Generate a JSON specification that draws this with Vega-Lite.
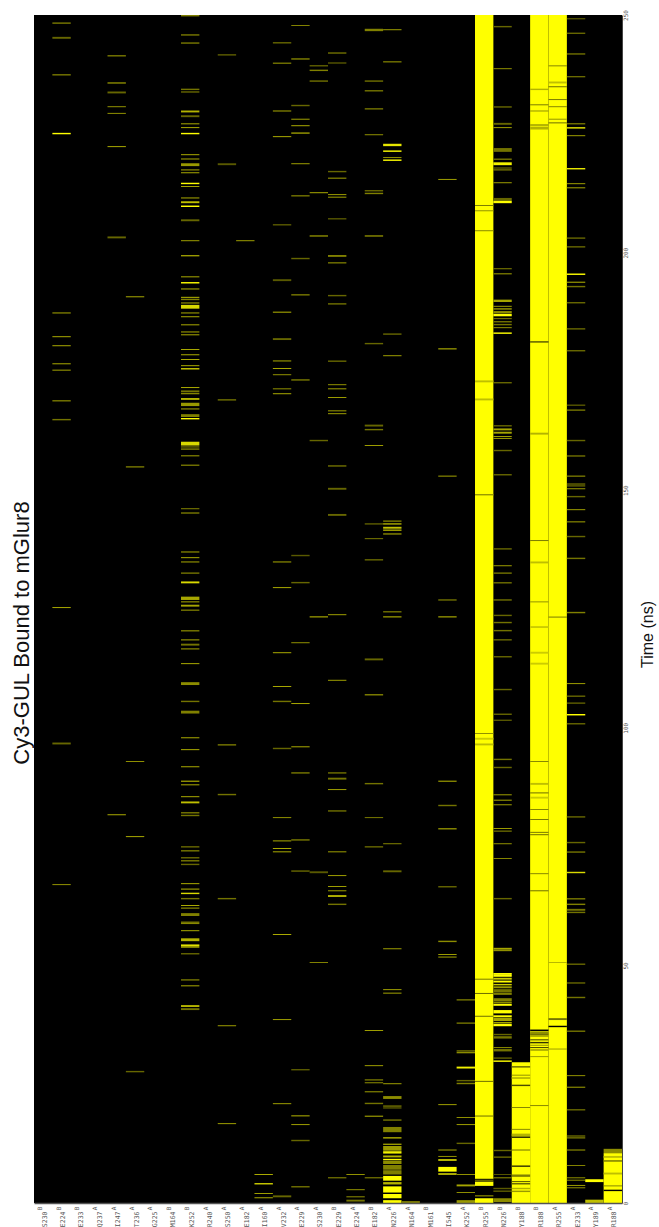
{"$schema":"https://vega.github.io/schema/vega-lite/v6.json","autosize":"none","width":588,"height":1188,"padding":{"left":34,"top":15,"right":37,"bottom":24},"background":"white","view":{"fill":"#000000","stroke":null},
"title":{"text":"Cy3-GUL Bound to mGlur8","orient":"left","anchor":"middle","font":"Liberation Sans","fontSize":22,"fontWeight":"normal","color":"#111111","offset":0,"dx":-24},
"data":{"values":[
{"c":"R255B","a":5.0,"b":250,"v":1},{"c":"R255B","a":3.6,"b":4.5,"v":1},{"c":"R255B","a":4.5,"b":4.9,"v":0.4},{"c":"R255B","a":0,"b":1.0,"v":1},{"c":"R255B","a":1.4,"b":1.6,"v":0.7},
{"c":"Y188B","a":0,"b":29.6,"v":1},{"c":"R188B","a":0,"b":250,"v":1},{"c":"R255A","a":0,"b":250,"v":1},{"c":"R188A","a":0,"b":10.5,"v":1},{"c":"R188A","a":10.5,"b":11.4,"v":0.55},
{"c":"E224B","a":248.2,"b":248.4,"v":0.7},{"c":"E224B","a":245.0,"b":245.4,"v":0.4},{"c":"E224B","a":237.3,"b":237.5,"v":0.7},{"c":"E224B","a":224.9,"b":225.2,"v":1},{"c":"E224B","a":187.2,"b":187.4,"v":0.7},{"c":"E224B","a":182.2,"b":182.4,"v":0.7},{"c":"E224B","a":180.3,"b":180.5,"v":0.7},{"c":"E224B","a":176.5,"b":176.7,"v":0.7},{"c":"E224B","a":175.1,"b":175.4,"v":0.45},{"c":"E224B","a":168.7,"b":168.9,"v":0.7},{"c":"E224B","a":164.7,"b":165,"v":0.45},{"c":"E224B","a":125.2,"b":125.4,"v":0.7},{"c":"E224B","a":96.5,"b":96.9,"v":0.4},{"c":"E224B","a":66.9,"b":67.1,"v":0.6},
{"c":"I247A","a":241.3,"b":241.5,"v":0.7},{"c":"I247A","a":235.5,"b":235.9,"v":0.4},{"c":"I247A","a":233.5,"b":233.9,"v":0.4},{"c":"I247A","a":230.6,"b":230.8,"v":0.6},{"c":"I247A","a":229.2,"b":229.4,"v":0.6},{"c":"I247A","a":222.2,"b":222.4,"v":0.7},{"c":"I247A","a":203.0,"b":203.4,"v":0.4},{"c":"I247A","a":81.6,"b":81.8,"v":0.7},
{"c":"T236A","a":190.6,"b":190.8,"v":0.7},{"c":"T236A","a":154.8,"b":155,"v":0.7},{"c":"T236A","a":92.8,"b":93,"v":0.6},{"c":"T236A","a":77.0,"b":77.2,"v":0.7},{"c":"T236A","a":27.5,"b":27.8,"v":0.4},
{"c":"K252B","a":249.7,"b":250,"v":0.5},{"c":"K252B","a":245.7,"b":245.9,"v":0.7},{"c":"K252B","a":244.0,"b":244.2,"v":0.7},{"c":"K252B","a":234.2,"b":234.5,"v":0.45},{"c":"K252B","a":233.7,"b":233.9,"v":0.6},{"c":"K252B","a":229.5,"b":229.9,"v":0.7},{"c":"K252B","a":228.5,"b":228.9,"v":0.4},{"c":"K252B","a":227.0,"b":227.2,"v":0.7},{"c":"K252B","a":226.2,"b":226.4,"v":0.7},{"c":"K252B","a":224.9,"b":225.2,"v":1},{"c":"K252B","a":220.5,"b":220.7,"v":0.7},{"c":"K252B","a":219.6,"b":219.8,"v":0.7},{"c":"K252B","a":218.2,"b":218.8,"v":0.6},{"c":"K252B","a":217.3,"b":217.5,"v":0.7},{"c":"K252B","a":216.7,"b":216.9,"v":0.7},{"c":"K252B","a":214.4,"b":214.7,"v":1},{"c":"K252B","a":213.8,"b":214,"v":0.7},{"c":"K252B","a":211.4,"b":211.6,"v":0.7},{"c":"K252B","a":210.4,"b":210.8,"v":0.75},{"c":"K252B","a":209.6,"b":209.9,"v":1},{"c":"K252B","a":206.6,"b":207,"v":0.4},{"c":"K252B","a":202.4,"b":202.6,"v":0.65},
{"c":"K252B","a":199.2,"b":199.5,"v":0.6},{"c":"K252B","a":194.8,"b":195,"v":0.7},{"c":"K252B","a":193.5,"b":193.8,"v":1},{"c":"K252B","a":192.2,"b":192.5,"v":0.5},{"c":"K252B","a":190.4,"b":190.7,"v":0.6},{"c":"K252B","a":190.0,"b":190.2,"v":0.6},{"c":"K252B","a":189.3,"b":189.5,"v":0.7},{"c":"K252B","a":188.2,"b":189,"v":0.85},{"c":"K252B","a":187.2,"b":187.4,"v":0.7},{"c":"K252B","a":186.4,"b":186.6,"v":0.7},{"c":"K252B","a":184.7,"b":184.9,"v":0.7},{"c":"K252B","a":183.2,"b":183.4,"v":0.7},{"c":"K252B","a":182.6,"b":182.8,"v":0.7},{"c":"K252B","a":179.5,"b":179.7,"v":0.7},{"c":"K252B","a":178.4,"b":178.6,"v":0.7},{"c":"K252B","a":177.4,"b":177.6,"v":0.7},{"c":"K252B","a":176.1,"b":176.3,"v":0.7},{"c":"K252B","a":175.4,"b":175.7,"v":0.8},{"c":"K252B","a":171.5,"b":171.7,"v":0.7},{"c":"K252B","a":170.6,"b":171,"v":0.45},{"c":"K252B","a":170.2,"b":170.4,"v":0.7},{"c":"K252B","a":169,"b":169.4,"v":0.7},{"c":"K252B","a":167.7,"b":168.4,"v":0.6},{"c":"K252B","a":167.0,"b":167.2,"v":0.7},{"c":"K252B","a":165.4,"b":166,"v":0.5},{"c":"K252B","a":164.9,"b":165.2,"v":1},{"c":"K252B","a":159.4,"b":160.2,"v":0.85},{"c":"K252B","a":159,"b":159.2,"v":0.6},{"c":"K252B","a":158.5,"b":158.8,"v":0.5},{"c":"K252B","a":157.1,"b":157.4,"v":0.45},{"c":"K252B","a":155.1,"b":155.4,"v":0.45},
{"c":"K252B","a":146,"b":146.2,"v":0.55},{"c":"K252B","a":145.1,"b":145.3,"v":0.7},{"c":"K252B","a":136.9,"b":137.1,"v":0.7},{"c":"K252B","a":135.7,"b":135.9,"v":0.7},{"c":"K252B","a":134.8,"b":135,"v":0.7},{"c":"K252B","a":132.4,"b":132.7,"v":0.45},{"c":"K252B","a":130.4,"b":130.8,"v":0.85},{"c":"K252B","a":126.9,"b":127.6,"v":0.65},{"c":"K252B","a":126.4,"b":126.6,"v":0.7},{"c":"K252B","a":125.5,"b":125.9,"v":0.65},{"c":"K252B","a":124.6,"b":124.9,"v":0.45},{"c":"K252B","a":120.3,"b":120.5,"v":0.7},{"c":"K252B","a":118.4,"b":118.6,"v":0.7},{"c":"K252B","a":117.3,"b":117.7,"v":0.45},{"c":"K252B","a":116.5,"b":116.7,"v":0.7},{"c":"K252B","a":113.4,"b":113.6,"v":0.7},{"c":"K252B","a":109,"b":109.6,"v":0.55},{"c":"K252B","a":105.4,"b":105.7,"v":0.45},{"c":"K252B","a":103,"b":103.6,"v":0.5},
{"c":"K252B","a":97.8,"b":98,"v":0.7},{"c":"K252B","a":95.3,"b":95.5,"v":0.7},{"c":"K252B","a":91.7,"b":91.9,"v":0.7},{"c":"K252B","a":88.6,"b":88.9,"v":0.55},{"c":"K252B","a":87.9,"b":88.1,"v":0.7},{"c":"K252B","a":85.4,"b":85.6,"v":0.7},{"c":"K252B","a":84.1,"b":84.5,"v":0.75},{"c":"K252B","a":82,"b":82.2,"v":0.7},{"c":"K252B","a":81.4,"b":81.7,"v":0.45},{"c":"K252B","a":74.8,"b":75.1,"v":0.4},{"c":"K252B","a":74,"b":74.2,"v":0.7},{"c":"K252B","a":72.5,"b":72.8,"v":0.4},{"c":"K252B","a":71.9,"b":72.1,"v":0.7},{"c":"K252B","a":71.1,"b":71.4,"v":0.4},{"c":"K252B","a":67.1,"b":67.3,"v":0.7},{"c":"K252B","a":65.9,"b":66.2,"v":0.5},{"c":"K252B","a":65,"b":65.3,"v":0.85},{"c":"K252B","a":63.9,"b":64.2,"v":0.45},{"c":"K252B","a":62.5,"b":62.7,"v":0.7},{"c":"K252B","a":61.9,"b":62.2,"v":0.45},{"c":"K252B","a":60.4,"b":61,"v":0.5},{"c":"K252B","a":59,"b":59.2,"v":0.7},{"c":"K252B","a":58.7,"b":58.9,"v":0.6},{"c":"K252B","a":57.2,"b":57.4,"v":0.7},{"c":"K252B","a":55.1,"b":55.7,"v":0.7},{"c":"K252B","a":54.1,"b":54.4,"v":1},{"c":"K252B","a":53.7,"b":54.1,"v":0.6},{"c":"K252B","a":52.3,"b":52.6,"v":0.4},{"c":"K252B","a":46.8,"b":47.1,"v":0.45},{"c":"K252B","a":45.6,"b":45.8,"v":0.7},{"c":"K252B","a":41.3,"b":41.6,"v":0.95},{"c":"K252B","a":40.6,"b":41,"v":0.45},
{"c":"S250A","a":241.5,"b":241.7,"v":0.55},{"c":"S250A","a":218.4,"b":218.8,"v":0.35},{"c":"S250A","a":168.9,"b":169.1,"v":0.65},{"c":"S250A","a":96.3,"b":96.5,"v":0.7},{"c":"S250A","a":85.8,"b":86.1,"v":0.45},{"c":"S250A","a":63.9,"b":64.2,"v":0.45},{"c":"S250A","a":37.2,"b":37.4,"v":0.65},{"c":"S250A","a":16.6,"b":16.8,"v":0.65},
{"c":"E182A","a":202.4,"b":202.6,"v":0.65},
{"c":"I160A","a":5.9,"b":6.1,"v":0.7},{"c":"I160A","a":3.9,"b":4.2,"v":0.8},{"c":"I160A","a":1.9,"b":2.1,"v":0.65},{"c":"I160A","a":1,"b":1.2,"v":0.7},
{"c":"V232A","a":244,"b":244.3,"v":0.4},{"c":"V232A","a":239.7,"b":240,"v":0.45},{"c":"V232A","a":229.7,"b":229.9,"v":0.7},{"c":"V232A","a":224.3,"b":224.5,"v":0.7},{"c":"V232A","a":205.7,"b":206,"v":0.35},{"c":"V232A","a":194,"b":194.4,"v":0.35},{"c":"V232A","a":187.3,"b":187.6,"v":0.5},{"c":"V232A","a":181.6,"b":182,"v":0.4},{"c":"V232A","a":177.1,"b":177.3,"v":0.7},{"c":"V232A","a":175.5,"b":175.7,"v":0.7},{"c":"V232A","a":174.2,"b":174.4,"v":0.6},{"c":"V232A","a":171.2,"b":171.5,"v":0.4},{"c":"V232A","a":170.2,"b":170.4,"v":0.7},{"c":"V232A","a":134.8,"b":135,"v":0.7},{"c":"V232A","a":129.4,"b":129.6,"v":0.7},{"c":"V232A","a":115.7,"b":115.9,"v":0.7},{"c":"V232A","a":108.6,"b":108.8,"v":0.7},{"c":"V232A","a":105.4,"b":105.7,"v":0.45},{"c":"V232A","a":95.5,"b":95.8,"v":0.4},{"c":"V232A","a":81,"b":81.2,"v":0.6},{"c":"V232A","a":76.1,"b":76.3,"v":0.7},{"c":"V232A","a":74.5,"b":74.7,"v":0.7},{"c":"V232A","a":73.8,"b":74,"v":0.7},{"c":"V232A","a":56.4,"b":56.6,"v":0.7},{"c":"V232A","a":38.5,"b":38.7,"v":0.65},{"c":"V232A","a":20.8,"b":21,"v":0.65},{"c":"V232A","a":1.2,"b":1.6,"v":0.4},
{"c":"E229A","a":247.7,"b":247.9,"v":0.55},{"c":"E229A","a":240.6,"b":240.9,"v":0.5},{"c":"E229A","a":230.8,"b":231.1,"v":0.4},{"c":"E229A","a":227.9,"b":228.2,"v":0.45},{"c":"E229A","a":226.6,"b":226.8,"v":0.7},{"c":"E229A","a":225,"b":225.3,"v":0.6},{"c":"E229A","a":218.6,"b":218.8,"v":0.65},{"c":"E229A","a":211.8,"b":212.1,"v":0.45},{"c":"E229A","a":198.6,"b":198.9,"v":0.4},{"c":"E229A","a":191,"b":191.2,"v":0.7},{"c":"E229A","a":173.1,"b":173.3,"v":0.7},{"c":"E229A","a":136.1,"b":136.4,"v":0.35},{"c":"E229A","a":130.4,"b":130.7,"v":0.4},{"c":"E229A","a":117.8,"b":118,"v":0.6},{"c":"E229A","a":105,"b":105.2,"v":0.7},{"c":"E229A","a":95.9,"b":96.1,"v":0.7},{"c":"E229A","a":90.4,"b":90.6,"v":0.7},{"c":"E229A","a":76.3,"b":76.5,"v":0.7},{"c":"E229A","a":69.7,"b":70,"v":0.4},{"c":"E229A","a":27.9,"b":28.2,"v":0.35},{"c":"E229A","a":18.2,"b":18.5,"v":0.5},{"c":"E229A","a":16.4,"b":16.6,"v":0.65},{"c":"E229A","a":13,"b":13.3,"v":0.4},{"c":"E229A","a":3.3,"b":3.5,"v":0.65},
{"c":"S230A","a":239.2,"b":239.4,"v":0.55},{"c":"S230A","a":238.2,"b":238.5,"v":0.5},{"c":"S230A","a":236,"b":236.2,"v":0.65},{"c":"S230A","a":212.5,"b":212.7,"v":0.7},{"c":"S230A","a":203.3,"b":203.7,"v":0.4},{"c":"S230A","a":160.3,"b":160.6,"v":0.4},{"c":"S230A","a":123.2,"b":123.5,"v":0.55},{"c":"S230A","a":69.4,"b":69.8,"v":0.35},{"c":"S230A","a":50.5,"b":50.7,"v":0.55},
{"c":"E229B","a":241.9,"b":242.1,"v":0.65},{"c":"E229B","a":239.8,"b":240,"v":0.5},{"c":"E229B","a":216.9,"b":217.2,"v":0.4},{"c":"E229B","a":215.5,"b":215.8,"v":0.45},{"c":"E229B","a":212.1,"b":212.3,"v":0.65},{"c":"E229B","a":211.5,"b":211.8,"v":0.45},{"c":"E229B","a":207,"b":207.2,"v":0.5},{"c":"E229B","a":199.1,"b":199.5,"v":0.5},{"c":"E229B","a":197.7,"b":198,"v":0.45},{"c":"E229B","a":190.8,"b":191.1,"v":0.4},{"c":"E229B","a":189.1,"b":189.3,"v":0.65},{"c":"E229B","a":177,"b":177.3,"v":0.4},{"c":"E229B","a":172.1,"b":172.3,"v":0.6},{"c":"E229B","a":171.2,"b":171.5,"v":0.45},{"c":"E229B","a":169.4,"b":169.6,"v":0.65},{"c":"E229B","a":166.6,"b":166.8,"v":0.65},{"c":"E229B","a":166,"b":166.2,"v":0.65},{"c":"E229B","a":155,"b":155.2,"v":0.65},{"c":"E229B","a":150.1,"b":150.5,"v":0.4},{"c":"E229B","a":144.6,"b":145,"v":0.4},{"c":"E229B","a":123.7,"b":123.9,"v":0.65},{"c":"E229B","a":109.9,"b":110.1,"v":0.65},{"c":"E229B","a":90.4,"b":90.6,"v":0.65},{"c":"E229B","a":89.1,"b":89.5,"v":0.45},{"c":"E229B","a":86.9,"b":87.1,"v":0.65},{"c":"E229B","a":82.4,"b":82.6,"v":0.65},{"c":"E229B","a":73.8,"b":74,"v":0.65},{"c":"E229B","a":68.8,"b":69,"v":0.65},{"c":"E229B","a":66.5,"b":66.7,"v":0.65},{"c":"E229B","a":65.6,"b":65.8,"v":0.65},{"c":"E229B","a":64.4,"b":64.8,"v":0.7},{"c":"E229B","a":62.7,"b":63,"v":0.45},{"c":"E229B","a":5.2,"b":5.4,"v":0.6},
{"c":"E224A","a":5.9,"b":6.1,"v":0.6},{"c":"E224A","a":2.7,"b":2.9,"v":0.6},{"c":"E224A","a":1.2,"b":1.4,"v":0.6},{"c":"E224A","a":0.3,"b":0.7,"v":0.45},
{"c":"E182B","a":246.6,"b":247.1,"v":0.5},{"c":"E182B","a":236,"b":236.2,"v":0.65},{"c":"E182B","a":233.9,"b":234.2,"v":0.45},{"c":"E182B","a":230.1,"b":230.4,"v":0.45},{"c":"E182B","a":224.7,"b":224.9,"v":0.6},{"c":"E182B","a":212.9,"b":213.1,"v":0.6},{"c":"E182B","a":212.3,"b":212.6,"v":0.5},{"c":"E182B","a":203.3,"b":203.7,"v":0.4},{"c":"E182B","a":180.7,"b":181,"v":0.4},{"c":"E182B","a":163.4,"b":163.8,"v":0.4},{"c":"E182B","a":162.6,"b":162.9,"v":0.45},{"c":"E182B","a":159.3,"b":159.5,"v":0.65},{"c":"E182B","a":142.8,"b":143,"v":0.55},{"c":"E182B","a":139.7,"b":139.9,"v":0.5},{"c":"E182B","a":135.2,"b":135.5,"v":0.4},{"c":"E182B","a":114.2,"b":114.6,"v":0.4},{"c":"E182B","a":106.8,"b":107.1,"v":0.5},{"c":"E182B","a":88.1,"b":88.4,"v":0.45},{"c":"E182B","a":81,"b":81.2,"v":0.5},{"c":"E182B","a":74.8,"b":75.1,"v":0.4},{"c":"E182B","a":36.2,"b":36.4,"v":0.65},{"c":"E182B","a":28.8,"b":29,"v":0.65},{"c":"E182B","a":25.8,"b":26,"v":0.65},{"c":"E182B","a":25.2,"b":25.4,"v":0.6},{"c":"E182B","a":23.3,"b":23.5,"v":0.65},{"c":"E182B","a":20.8,"b":21.1,"v":0.45},{"c":"E182B","a":18.1,"b":18.4,"v":0.5},{"c":"E182B","a":5.2,"b":5.4,"v":0.6},
{"c":"N226A","a":246.8,"b":247,"v":0.65},{"c":"N226A","a":240,"b":240.3,"v":0.45},{"c":"N226A","a":222.4,"b":222.9,"v":0.9},{"c":"N226A","a":221.2,"b":221.5,"v":1},{"c":"N226A","a":219.9,"b":220.1,"v":0.6},{"c":"N226A","a":219.3,"b":219.6,"v":1},{"c":"N226A","a":182.7,"b":183,"v":0.4},{"c":"N226A","a":178.2,"b":178.4,"v":0.65},{"c":"N226A","a":143.4,"b":143.6,"v":0.7},{"c":"N226A","a":142.8,"b":143,"v":1},{"c":"N226A","a":141.9,"b":142.3,"v":0.75},{"c":"N226A","a":141.5,"b":141.7,"v":1},{"c":"N226A","a":140.6,"b":141,"v":0.4},{"c":"N226A","a":124.3,"b":124.5,"v":0.65},{"c":"N226A","a":123.2,"b":123.5,"v":0.55},{"c":"N226A","a":75.5,"b":75.7,"v":0.55},{"c":"N226A","a":69.6,"b":70,"v":0.4},{"c":"N226A","a":53.4,"b":53.6,"v":0.65},{"c":"N226A","a":44.8,"b":45,"v":0.65},{"c":"N226A","a":44,"b":44.3,"v":0.45},{"c":"N226A","a":25,"b":25.2,"v":0.65},{"c":"N226A","a":21.9,"b":22.5,"v":0.55},{"c":"N226A","a":20.3,"b":20.5,"v":0.65},{"c":"N226A","a":19.9,"b":20.1,"v":0.5},{"c":"N226A","a":17.3,"b":17.6,"v":0.45},{"c":"N226A","a":14.9,"b":16,"v":0.5},{"c":"N226A","a":13.6,"b":13.8,"v":1},{"c":"N226A","a":12.2,"b":12.5,"v":0.6},{"c":"N226A","a":11,"b":12,"v":0.6},{"c":"N226A","a":10.4,"b":10.9,"v":0.95},{"c":"N226A","a":9.6,"b":10,"v":0.7},{"c":"N226A","a":9,"b":9.3,"v":1},{"c":"N226A","a":8.2,"b":8.9,"v":0.55},{"c":"N226A","a":7,"b":8,"v":0.5},{"c":"N226A","a":6,"b":6.9,"v":0.5},{"c":"N226A","a":4.7,"b":5.7,"v":1},{"c":"N226A","a":3.9,"b":4.4,"v":0.7},{"c":"N226A","a":2.2,"b":3.5,"v":1},{"c":"N226A","a":1,"b":1.9,"v":1},{"c":"N226A","a":0,"b":0.6,"v":1},
{"c":"N164A","a":0,"b":0.4,"v":0.5},
{"c":"I545","a":215.3,"b":215.5,"v":0.65},{"c":"I545","a":179.6,"b":179.9,"v":0.55},{"c":"I545","a":152.8,"b":153.1,"v":0.45},{"c":"I545","a":126.8,"b":127,"v":0.65},{"c":"I545","a":123.2,"b":123.5,"v":0.55},{"c":"I545","a":88.6,"b":88.9,"v":0.5},{"c":"I545","a":83.5,"b":83.8,"v":0.45},{"c":"I545","a":78.6,"b":78.9,"v":0.55},{"c":"I545","a":66.4,"b":66.7,"v":0.4},{"c":"I545","a":54.9,"b":55.2,"v":0.55},{"c":"I545","a":52.2,"b":52.4,"v":0.65},{"c":"I545","a":51.6,"b":51.9,"v":0.45},{"c":"I545","a":20.6,"b":20.8,"v":0.65},{"c":"I545","a":11,"b":11.3,"v":0.45},{"c":"I545","a":9.7,"b":9.9,"v":0.6},{"c":"I545","a":8.9,"b":9.2,"v":1},{"c":"I545","a":6.6,"b":7.6,"v":1},{"c":"I545","a":5.9,"b":6.3,"v":0.7},
{"c":"K252A","a":42.6,"b":42.9,"v":0.45},{"c":"K252A","a":37.7,"b":38,"v":0.45},{"c":"K252A","a":31.9,"b":32.1,"v":0.65},{"c":"K252A","a":31.5,"b":31.8,"v":0.55},{"c":"K252A","a":28.3,"b":28.7,"v":0.95},{"c":"K252A","a":25.6,"b":25.9,"v":0.4},{"c":"K252A","a":25,"b":25.3,"v":0.5},{"c":"K252A","a":17.9,"b":18.1,"v":0.6},{"c":"K252A","a":16.4,"b":16.6,"v":0.65},{"c":"K252A","a":12.4,"b":12.7,"v":0.4},{"c":"K252A","a":5.9,"b":6.1,"v":0.6},{"c":"K252A","a":3.5,"b":3.9,"v":0.65},{"c":"K252A","a":2.1,"b":2.3,"v":0.6},{"c":"K252A","a":0,"b":0.6,"v":0.6},
{"c":"R255B","a":209.8,"b":210,"v":0.45},{"c":"R255B","a":208.7,"b":208.9,"v":0.55},{"c":"R255B","a":204.5,"b":204.7,"v":0.5},{"c":"R255B","a":172.7,"b":173.1,"v":0.75},{"c":"R255B","a":168.9,"b":169.3,"v":0.75},{"c":"R255B","a":148.9,"b":149.2,"v":0.6},{"c":"R255B","a":98.7,"b":98.9,"v":0.55},{"c":"R255B","a":97.5,"b":97.9,"v":0.8},{"c":"R255B","a":96.3,"b":96.7,"v":0.75},{"c":"R255B","a":47,"b":47.2,"v":0.45},{"c":"R255B","a":44,"b":44.2,"v":0.4},{"c":"R255B","a":39.2,"b":39.4,"v":0.4},{"c":"R255B","a":25.5,"b":25.7,"v":0.4},{"c":"R255B","a":18.2,"b":18.4,"v":0.4},{"c":"R255B","a":4.9,"b":5.1,"v":0.1},
{"c":"N226B","a":247.4,"b":247.7,"v":0.4},{"c":"N226B","a":238.6,"b":238.8,"v":0.6},{"c":"N226B","a":230.5,"b":230.8,"v":0.4},{"c":"N226B","a":226.9,"b":227.3,"v":0.4},{"c":"N226B","a":226.2,"b":226.4,"v":0.65},{"c":"N226B","a":221.2,"b":222,"v":0.45},{"c":"N226B","a":219.5,"b":219.8,"v":0.45},{"c":"N226B","a":218.4,"b":219,"v":0.95},{"c":"N226B","a":217.7,"b":217.9,"v":0.55},{"c":"N226B","a":217.3,"b":217.5,"v":0.65},{"c":"N226B","a":214.6,"b":214.8,"v":0.65},{"c":"N226B","a":210.9,"b":211.5,"v":0.4},{"c":"N226B","a":210.4,"b":210.9,"v":1},
{"c":"N226B","a":196.5,"b":196.7,"v":0.55},{"c":"N226B","a":195.4,"b":195.7,"v":0.45},{"c":"N226B","a":189.6,"b":190.1,"v":0.65},{"c":"N226B","a":188.6,"b":188.8,"v":0.65},{"c":"N226B","a":188,"b":188.3,"v":0.6},{"c":"N226B","a":187.2,"b":187.7,"v":0.55},{"c":"N226B","a":186.6,"b":187.1,"v":1},{"c":"N226B","a":186,"b":186.2,"v":0.5},{"c":"N226B","a":185.3,"b":185.6,"v":0.45},{"c":"N226B","a":184.7,"b":185,"v":0.45},{"c":"N226B","a":184.1,"b":184.3,"v":0.6},{"c":"N226B","a":182.9,"b":183.2,"v":1},{"c":"N226B","a":172.5,"b":172.7,"v":0.6},{"c":"N226B","a":163.4,"b":163.7,"v":0.4},{"c":"N226B","a":162.6,"b":163,"v":0.65},{"c":"N226B","a":161.9,"b":162.3,"v":0.65},{"c":"N226B","a":161.2,"b":161.4,"v":0.65},{"c":"N226B","a":160.8,"b":161,"v":0.65},{"c":"N226B","a":158.2,"b":158.5,"v":0.4},{"c":"N226B","a":153.1,"b":153.4,"v":0.4},
{"c":"N226B","a":137.5,"b":137.8,"v":0.4},{"c":"N226B","a":134,"b":134.2,"v":0.65},{"c":"N226B","a":132.4,"b":132.7,"v":0.45},{"c":"N226B","a":130.4,"b":130.6,"v":0.65},{"c":"N226B","a":126.8,"b":127,"v":0.65},{"c":"N226B","a":123.5,"b":123.8,"v":0.4},{"c":"N226B","a":122,"b":122.3,"v":0.45},{"c":"N226B","a":120.3,"b":120.6,"v":0.45},{"c":"N226B","a":118.4,"b":118.6,"v":0.6},{"c":"N226B","a":114.8,"b":115.1,"v":0.4},{"c":"N226B","a":107.9,"b":108.2,"v":0.4},{"c":"N226B","a":102.7,"b":103,"v":0.4},{"c":"N226B","a":101.5,"b":101.7,"v":0.5},{"c":"N226B","a":93.2,"b":93.5,"v":0.45},{"c":"N226B","a":91.5,"b":91.8,"v":0.4},{"c":"N226B","a":85.8,"b":86,"v":0.65},{"c":"N226B","a":84.6,"b":84.9,"v":0.45},{"c":"N226B","a":83.7,"b":83.9,"v":0.65},{"c":"N226B","a":78.7,"b":78.9,"v":0.65},{"c":"N226B","a":78.1,"b":78.4,"v":0.4},{"c":"N226B","a":75.5,"b":75.7,"v":0.6},{"c":"N226B","a":72.4,"b":72.6,"v":0.55},{"c":"N226B","a":63.9,"b":64.2,"v":0.4},{"c":"N226B","a":53.3,"b":53.7,"v":0.65},{"c":"N226B","a":53,"b":53.2,"v":0.7},{"c":"N226B","a":48,"b":48.4,"v":1},
{"c":"N226B","a":47.6,"b":48,"v":1},{"c":"N226B","a":47,"b":47.4,"v":0.8},{"c":"N226B","a":46.4,"b":46.8,"v":1},{"c":"N226B","a":45.8,"b":46.1,"v":0.8},{"c":"N226B","a":45.2,"b":45.6,"v":0.6},{"c":"N226B","a":44.4,"b":45,"v":0.45},{"c":"N226B","a":43.8,"b":44.3,"v":0.5},{"c":"N226B","a":42.5,"b":43.1,"v":0.5},{"c":"N226B","a":42,"b":42.4,"v":0.55},{"c":"N226B","a":41.5,"b":41.9,"v":1},{"c":"N226B","a":39.9,"b":40.6,"v":1},{"c":"N226B","a":39.1,"b":39.5,"v":1},{"c":"N226B","a":38.3,"b":39,"v":0.65},{"c":"N226B","a":37.8,"b":38.1,"v":0.65},{"c":"N226B","a":37.2,"b":37.7,"v":1},{"c":"N226B","a":35.3,"b":35.6,"v":0.4},{"c":"N226B","a":34.6,"b":35.1,"v":0.45},{"c":"N226B","a":32.6,"b":32.8,"v":0.6},{"c":"N226B","a":31.9,"b":32.4,"v":0.45},{"c":"N226B","a":30.4,"b":30.6,"v":0.55},{"c":"N226B","a":29.7,"b":30,"v":1},{"c":"N226B","a":10.9,"b":11.2,"v":0.4},{"c":"N226B","a":9.5,"b":9.8,"v":0.4},{"c":"N226B","a":5.9,"b":6.1,"v":0.35},{"c":"N226B","a":5.2,"b":5.4,"v":0.6},{"c":"N226B","a":2.9,"b":3.2,"v":0.35},{"c":"N226B","a":2.4,"b":2.6,"v":0.55},{"c":"N226B","a":0.2,"b":1,"v":0.55},
{"c":"Y188B","a":28.5,"b":28.8,"v":0.4},{"c":"Y188B","a":26.8,"b":27,"v":0.55},{"c":"Y188B","a":26.1,"b":26.5,"v":0.75},{"c":"Y188B","a":24.6,"b":24.9,"v":0.3},{"c":"Y188B","a":20,"b":20.2,"v":0.5},{"c":"Y188B","a":15.4,"b":15.6,"v":0.5},{"c":"Y188B","a":14.1,"b":14.6,"v":0.7},{"c":"Y188B","a":13.7,"b":14,"v":0.1},{"c":"Y188B","a":11,"b":11.3,"v":0.6},{"c":"Y188B","a":7.6,"b":7.9,"v":0.2},{"c":"Y188B","a":5.5,"b":6,"v":0.5},{"c":"Y188B","a":4.4,"b":4.6,"v":0.3},{"c":"Y188B","a":3.9,"b":4.2,"v":0.4},{"c":"Y188B","a":2.9,"b":3.2,"v":0.7},{"c":"Y188B","a":2.3,"b":2.6,"v":0.6},
{"c":"R188B","a":234.2,"b":234.5,"v":0.7},{"c":"R188B","a":231,"b":231.2,"v":0.45},{"c":"R188B","a":229.7,"b":229.9,"v":0.55},{"c":"R188B","a":226.7,"b":227,"v":0.6},{"c":"R188B","a":225.9,"b":226.5,"v":0.7},{"c":"R188B","a":181.1,"b":181.3,"v":0},{"c":"R188B","a":161.7,"b":162.1,"v":0.7},{"c":"R188B","a":139.3,"b":139.5,"v":0.45},{"c":"R188B","a":134.6,"b":135,"v":0.75},{"c":"R188B","a":126.4,"b":126.6,"v":0.55},{"c":"R188B","a":121,"b":121.4,"v":0.8},{"c":"R188B","a":115.6,"b":116,"v":0.8},{"c":"R188B","a":113.3,"b":113.7,"v":0.8},{"c":"R188B","a":92.8,"b":93,"v":0.5},{"c":"R188B","a":88,"b":88.4,"v":0.75},{"c":"R188B","a":86.2,"b":86.4,"v":0.4},{"c":"R188B","a":85.1,"b":85.5,"v":0.8},{"c":"R188B","a":82.7,"b":82.9,"v":0.5},{"c":"R188B","a":80.6,"b":80.8,"v":0.45},{"c":"R188B","a":77.9,"b":78.1,"v":0.45},{"c":"R188B","a":77.4,"b":77.6,"v":0.4},{"c":"R188B","a":69.2,"b":69.4,"v":0.5},{"c":"R188B","a":65.6,"b":65.8,"v":0.4},
{"c":"R188B","a":36.2,"b":36.5,"v":0},{"c":"R188B","a":35.8,"b":36.1,"v":0.5},{"c":"R188B","a":35.4,"b":35.7,"v":0.3},{"c":"R188B","a":35,"b":35.3,"v":0.55},{"c":"R188B","a":34.2,"b":34.5,"v":0.45},{"c":"R188B","a":33.6,"b":33.9,"v":0.2},{"c":"R188B","a":33.1,"b":33.3,"v":0.55},{"c":"R188B","a":32.6,"b":32.8,"v":0.2},{"c":"R188B","a":32,"b":32.4,"v":0.7},{"c":"R188B","a":30.7,"b":30.9,"v":0.6},{"c":"R188B","a":20.4,"b":20.6,"v":0.5},
{"c":"R255A","a":239.2,"b":239.4,"v":0.5},{"c":"R255A","a":235.6,"b":236,"v":0.75},{"c":"R255A","a":234.8,"b":235,"v":0.4},{"c":"R255A","a":232.1,"b":232.3,"v":0.45},{"c":"R255A","a":230.6,"b":230.8,"v":0.5},{"c":"R255A","a":227.9,"b":228.2,"v":0.7},{"c":"R255A","a":227.2,"b":227.4,"v":0.4},{"c":"R255A","a":123.2,"b":123.4,"v":0.45},{"c":"R255A","a":50.5,"b":50.7,"v":0.7},{"c":"R255A","a":38.5,"b":38.9,"v":0.45},{"c":"R255A","a":37,"b":37.3,"v":0},{"c":"R255A","a":32.3,"b":32.5,"v":0.6},
{"c":"E233A","a":249.1,"b":249.3,"v":0.45},{"c":"E233A","a":246,"b":246.3,"v":0.4},{"c":"E233A","a":241.7,"b":241.9,"v":0.65},{"c":"E233A","a":236.9,"b":237.1,"v":0.6},{"c":"E233A","a":227,"b":227.2,"v":0.65},{"c":"E233A","a":226.1,"b":226.4,"v":0.9},{"c":"E233A","a":224.5,"b":224.7,"v":0.65},{"c":"E233A","a":217.5,"b":217.8,"v":0.9},{"c":"E233A","a":214.4,"b":214.6,"v":0.65},{"c":"E233A","a":213.5,"b":213.8,"v":0.45},{"c":"E233A","a":202.9,"b":203.2,"v":0.4},{"c":"E233A","a":201.1,"b":201.3,"v":0.6},{"c":"E233A","a":195.3,"b":195.6,"v":1},{"c":"E233A","a":193.6,"b":193.9,"v":0.5},{"c":"E233A","a":192.7,"b":193,"v":0.45},{"c":"E233A","a":189.3,"b":189.6,"v":0.4},{"c":"E233A","a":183.8,"b":184.1,"v":0.4},{"c":"E233A","a":179.2,"b":179.5,"v":0.4},{"c":"E233A","a":167.8,"b":168,"v":0.5},{"c":"E233A","a":166.7,"b":167,"v":0.45},{"c":"E233A","a":160.3,"b":160.6,"v":0.4},{"c":"E233A","a":157.1,"b":157.3,"v":0.65},{"c":"E233A","a":152.8,"b":153.1,"v":0.45},{"c":"E233A","a":151.2,"b":151.4,"v":0.6},{"c":"E233A","a":150.8,"b":151,"v":0.55},{"c":"E233A","a":150.2,"b":150.4,"v":0.65},{"c":"E233A","a":148.5,"b":148.8,"v":0.4},{"c":"E233A","a":145.8,"b":146,"v":0.65},{"c":"E233A","a":143.2,"b":143.5,"v":0.45},{"c":"E233A","a":140.1,"b":140.4,"v":0.4},{"c":"E233A","a":135.5,"b":135.8,"v":0.45},{"c":"E233A","a":124.1,"b":124.4,"v":0.5},{"c":"E233A","a":109.2,"b":109.4,"v":0.65},{"c":"E233A","a":106.5,"b":106.8,"v":0.4},{"c":"E233A","a":105.1,"b":105.3,"v":0.55},{"c":"E233A","a":102.6,"b":102.9,"v":1},{"c":"E233A","a":100.7,"b":101,"v":0.4},{"c":"E233A","a":81.1,"b":81.4,"v":0.4},{"c":"E233A","a":75.7,"b":76,"v":0.4},{"c":"E233A","a":73.7,"b":74,"v":0.45},{"c":"E233A","a":69.4,"b":69.7,"v":0.85},{"c":"E233A","a":63.9,"b":64.1,"v":0.7},{"c":"E233A","a":62.7,"b":63,"v":0.5},{"c":"E233A","a":61.5,"b":61.9,"v":0.45},{"c":"E233A","a":61,"b":61.3,"v":0.45},{"c":"E233A","a":50.1,"b":50.4,"v":0.4},{"c":"E233A","a":46.2,"b":46.4,"v":0.6},{"c":"E233A","a":43.1,"b":43.4,"v":0.45},{"c":"E233A","a":36,"b":36.3,"v":0.45},{"c":"E233A","a":26.7,"b":26.9,"v":0.6},{"c":"E233A","a":24.2,"b":24.5,"v":0.45},{"c":"E233A","a":19.5,"b":19.7,"v":0.6},{"c":"E233A","a":14,"b":14.2,"v":0.6},{"c":"E233A","a":13.6,"b":13.8,"v":0.65},{"c":"E233A","a":11,"b":11.3,"v":0.45},{"c":"E233A","a":7.8,"b":8,"v":0.55},{"c":"E233A","a":5.2,"b":5.4,"v":0.6},{"c":"E233A","a":4.7,"b":4.9,"v":0.6},{"c":"E233A","a":3.6,"b":3.8,"v":0.65},{"c":"E233A","a":3.1,"b":3.3,"v":0.6},
{"c":"Y189A","a":4.4,"b":5,"v":1},{"c":"Y189A","a":0,"b":0.7,"v":0.75},
{"c":"R188A","a":9.5,"b":9.9,"v":0.75},{"c":"R188A","a":8.7,"b":9,"v":0.45},{"c":"R188A","a":6,"b":6.4,"v":0.75},{"c":"R188A","a":3.5,"b":3.7,"v":0.5},{"c":"R188A","a":2.5,"b":2.8,"v":0}
]},
"layer":[
{"mark":{"type":"rect"},"encoding":{
"x":{"field":"c","type":"nominal","scale":{"domain":["S230B","E224B","E233B","Q237A","I247A","T236A","G225A","M164B","K252B","R240A","S250A","E182A","I160A","V232A","E229A","S230A","E229B","E224A","E182B","N226A","N164A","M161B","I545","K252A","R255B","N226B","Y188B","R188B","R255A","E233A","Y189A","R188A"]},"sort":null,
"axis":{"title":null,"orient":"bottom","ticks":false,"grid":false,"domainColor":"#555555","domainWidth":1.5,"labelAngle":270,"labelAlign":"right","labelBaseline":"middle","labelFont":"DejaVu Sans Mono","labelFontSize":6.5,"labelColor":"#555555","labelPadding":8,"labelOffset":1.5,"labelOverlap":false,"labelExpr":"substring(datum.value,0,4)"}},
"y":{"field":"a","type":"quantitative","scale":{"domain":[0,250],"nice":false,"zero":false},
"axis":{"orient":"right","values":[0,50,100,150,200,250],"ticks":false,"grid":false,"domainColor":"#444444","domainWidth":1,"labelAngle":270,"labelAlign":"center","labelBaseline":"middle","labelFont":"DejaVu Sans Mono","labelFontSize":6,"labelColor":"#555555","labelPadding":3,"title":"Time (ns)","titleAngle":270,"titleFont":"Liberation Sans","titleFontSize":16,"titleFontWeight":"normal","titleColor":"#111111","titleBaseline":"middle","titleAlign":"center","titleX":25,"titleY":619}},
"y2":{"field":"b"},
"color":{"field":"v","type":"quantitative","legend":null,"scale":{"domain":[0,1],"range":["#000000","#ffff00"],"interpolate":"rgb"}}}},
{"transform":[{"filter":"false"}],"mark":{"type":"rect"},"encoding":{
"x":{"field":"c","type":"nominal","scale":{"domain":["S230B","E224B","E233B","Q237A","I247A","T236A","G225A","M164B","K252B","R240A","S250A","E182A","I160A","V232A","E229A","S230A","E229B","E224A","E182B","N226A","N164A","M161B","I545","K252A","R255B","N226B","Y188B","R188B","R255A","E233A","Y189A","R188A"]},"sort":null,
"axis":{"title":null,"orient":"bottom","ticks":false,"grid":false,"domain":false,"labelAngle":270,"labelAlign":"right","labelBaseline":"middle","labelFont":"DejaVu Sans Mono","labelFontSize":6,"labelColor":"#555555","labelPadding":3,"labelOffset":-3,"labelOverlap":false,"labelExpr":"substring(datum.value,4)"}}}}
],
"resolve":{"axis":{"x":"independent"}}
}
